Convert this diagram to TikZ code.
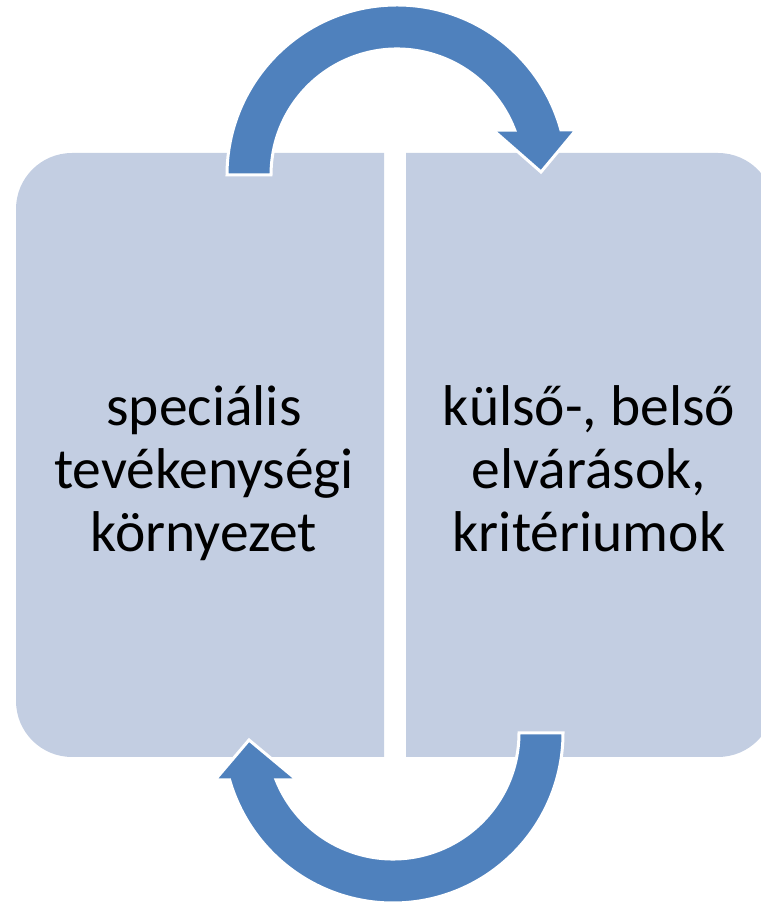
\documentclass[tikz,border=0pt]{standalone}
\usepackage{fontspec}
\setmainfont{Carlito}
\usepackage{tikz}
\usetikzlibrary{calc}

\definecolor{boxfill}{RGB}{195,206,226}
\definecolor{arrowfill}{RGB}{79,129,189}

\begin{document}
\begin{tikzpicture}[
    x=1pt,y=1pt,
    panel/.style={fill=boxfill},
    bigarrow/.style={
        fill=arrowfill,
        draw=white,
        line width=3pt,
        line join=miter
      },
    boxtext/.style={
        align=center,
        inner sep=0pt,
        anchor=base,
        font=\fontsize{57.5}{63}\selectfont
      }
  ]
  \useasboundingbox (0,0) rectangle (760,904);

  % bal doboz
  \fill[panel] (384,147) -- (72,147) arc[start angle=270,end angle=180,radius=56]
    -- (16,695) arc[start angle=180,end angle=90,radius=56] -- (384,751) -- cycle;
  % jobb doboz
  \fill[panel] (406,147) -- (718,147) arc[start angle=-90,end angle=0,radius=56]
    -- (774,695) arc[start angle=0,end angle=90,radius=56] -- (406,751) -- cycle;

  % szovegek
  \node[boxtext] (env) at (204,352) {speciális\\tevékenységi\\környezet};
  \node[boxtext] (crit) at (589,352) {külső-, belső\\elvárások,\\kritériumok};

  % felso nyil
  \coordinate (topc) at (397,729);
  \filldraw[bigarrow] ($(topc)+(180:170)$) arc[start angle=180,end angle=15.35,radius=170]
    -- (576,774) -- (541,732) -- (493,774)
    -- ($(topc)+(20.9:126)$) arc[start angle=20.9,end angle=180,radius=126] -- cycle;

  % also nyil
  \coordinate (botc) at (393,171);
  \filldraw[bigarrow] ($(botc)+(0:170)$) arc[start angle=0,end angle=-163.95,radius=170]
    -- (215,124) -- (249,164) -- (297,124)
    -- ($(botc)+(-158.1:126)$) arc[start angle=-158.1,end angle=0,radius=126] -- cycle;

\end{tikzpicture}
\end{document}
